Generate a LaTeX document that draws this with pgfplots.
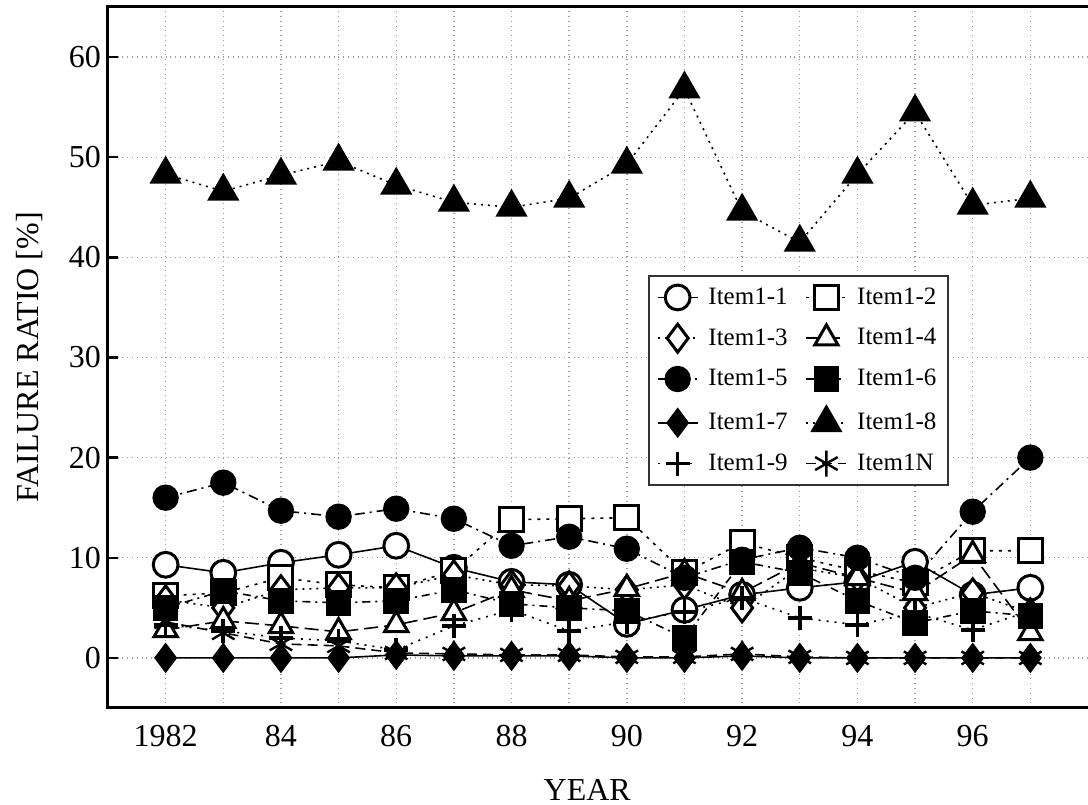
\documentclass[border=0pt]{standalone}
\usepackage{fontspec}
\setmainfont{Liberation Serif}
\usepackage{pgfplots}
\pgfplotsset{compat=1.18}
\begin{document}
\begin{tikzpicture}
\begin{axis}[
  name=ax,
  scale only axis, width=490pt, height=350.5pt,
  xmin=1981, xmax=1998, ymin=-5, ymax=65,
  xtick={1982,1984,...,1996}, xticklabels={1982,84,86,88,90,92,94,96},
  minor xtick={1983,1985,...,1997},
  ytick={0,10,...,60},
  ytick pos=left,
  grid=both,
  major grid style={dotted, gray!80, line width=0.7pt},
  minor grid style={dotted, gray!80, line width=0.7pt},
  axis line style={draw=none},
  xtick style={draw=none}, minor tick length=0pt,
  ytick style={black, line width=1.2pt}, major tick length=5pt, tick align=inside,
  /pgf/number format/assume math mode=true,
  ticklabel style={font=\fontsize{16}{19}\selectfont},
  xticklabel style={yshift=-5pt},
  yticklabel style={/pgf/number format/1000 sep={}},
  xlabel={YEAR}, ylabel={FAILURE RATIO [\%]},
  every axis x label/.style={at={(axis description cs:0.489,-0.117)}, anchor=center, font=\fontsize{16}{19}\selectfont},
  every axis y label/.style={at={(axis description cs:-0.0796,0.5)}, rotate=90, anchor=center, font=\fontsize{16}{19}\selectfont},
  clip=false,
  legend columns=2,
  legend style={at={(0.551,0.618)}, anchor=north west, draw=black!80, line width=0.9pt,
    font=\fontsize{12.5}{15}\selectfont, row sep=6.5pt, column sep=3pt, inner sep=4pt,
    /tikz/every even column/.append style={column sep=7pt}},
  legend cell align=left,
  legend image code/.code={\draw[mark repeat=2,mark phase=2,#1] plot coordinates {(0pt,0pt) (10pt,0pt) (20pt,0pt)};},
  every axis plot/.append style={black, line width=0.8pt},
]
% Item1-1
\addplot[solid, mark=*, mark size=6.2pt, mark options={solid, fill=white, line width=1.5pt}] coordinates {
(1982,9.3)(1983,8.5)(1984,9.5)(1985,10.3)(1986,11.2)(1987,9.0)(1988,7.6)(1989,7.3)(1990,3.4)(1991,4.8)(1992,6.3)(1993,7.0)(1994,7.6)(1995,9.6)(1996,6.3)(1997,7.0)};
\addlegendentry{Item1-1}
% Item1-2
\addplot[dash pattern=on 1.5pt off 3pt, mark=square*, mark size=6pt, mark options={solid, fill=white, line width=1.5pt}] coordinates {
(1982,6.2)(1983,6.5)(1984,8.0)(1985,7.3)(1986,7.0)(1987,8.7)(1988,13.8)(1989,13.9)(1990,14.0)(1991,8.5)(1992,11.5)(1993,10.0)(1994,8.7)(1995,7.5)(1996,10.7)(1997,10.7)};
\addlegendentry{Item1-2}
% Item1-3
\addplot[dash pattern=on 1pt off 2.5pt, mark=diamond*, mark size=7pt, mark options={solid, fill=white, line width=1.5pt}] coordinates {
(1982,5.8)(1983,5.0)(1984,6.8)(1985,7.0)(1986,7.0)(1987,8.3)(1988,7.3)(1989,7.2)(1990,6.8)(1991,7.3)(1992,5.0)(1993,9.0)(1994,8.0)(1995,5.0)(1996,6.5)(1997,4.5)};
\addlegendentry{Item1-3}
% Item1-4
\addplot[dash pattern=on 7pt off 3pt, mark=triangle*, mark size=6.7pt, mark options={solid, fill=white, line width=1.5pt}] coordinates {
(1982,2.8)(1983,3.7)(1984,3.2)(1985,2.6)(1986,3.3)(1987,4.5)(1988,6.8)(1989,5.7)(1990,6.9)(1991,8.5)(1992,6.5)(1993,9.5)(1994,8.0)(1995,6.5)(1996,10.3)(1997,2.5)};
\addlegendentry{Item1-4}
% Item1-5
\addplot[dash pattern=on 5pt off 2.5pt on 1pt off 2.5pt, mark=*, mark size=6.2pt, mark options={solid, fill=black}] coordinates {
(1982,16.0)(1983,17.5)(1984,14.7)(1985,14.1)(1986,14.9)(1987,13.9)(1988,11.2)(1989,12.1)(1990,10.9)(1991,8.0)(1992,9.8)(1993,11.0)(1994,10.0)(1995,8.0)(1996,14.6)(1997,20.0)};
\addlegendentry{Item1-5}
% Item1-6
\addplot[dash pattern=on 4pt off 2.5pt on 1pt off 2.5pt, mark=square*, mark size=6pt, mark options={solid, fill=black}] coordinates {
(1982,5.0)(1983,6.7)(1984,5.7)(1985,5.5)(1986,5.7)(1987,6.8)(1988,5.4)(1989,5.0)(1990,4.7)(1991,2.0)(1992,9.6)(1993,8.5)(1994,5.7)(1995,3.5)(1996,4.7)(1997,4.2)};
\addlegendentry{Item1-6}
% Item1-7
\addplot[solid, mark=diamond*, mark size=7pt, mark options={solid, fill=black}] coordinates {
(1982,0)(1983,0)(1984,0)(1985,0)(1986,0.3)(1987,0.2)(1988,0.2)(1989,0.2)(1990,0)(1991,0)(1992,0.2)(1993,0)(1994,0)(1995,0)(1996,0)(1997,0)};
\addlegendentry{Item1-7}
% Item1-8
\addplot[dash pattern=on 1pt off 2.5pt, mark=triangle*, mark size=8.5pt, mark options={solid, fill=black}] coordinates {
(1982,48.3)(1983,46.6)(1984,48.2)(1985,49.6)(1986,47.2)(1987,45.5)(1988,45.0)(1989,45.9)(1990,49.3)(1991,56.8)(1992,44.6)(1993,41.5)(1994,48.3)(1995,54.5)(1996,45.2)(1997,45.9)};
\addlegendentry{Item1-8}
% Item1-9
\addplot[dash pattern=on 1pt off 3pt, mark=+, mark size=6pt, mark options={solid, line width=1.8pt}] coordinates {
(1982,3.3)(1983,2.7)(1984,2.0)(1985,1.7)(1986,0.8)(1987,3.2)(1988,4.8)(1989,2.7)(1990,3.6)(1991,4.6)(1992,6.0)(1993,4.0)(1994,3.3)(1995,4.5)(1996,2.8)(1997,4.7)};
\addlegendentry{Item1-9}
% Item1N
\addplot[dash pattern=on 5pt off 3pt, mark=asterisk, mark size=6.5pt, mark options={solid, line width=1.2pt}] coordinates {
(1982,3.6)(1983,2.5)(1984,1.4)(1985,1.2)(1986,0.5)(1987,0.4)(1988,0.3)(1989,0.3)(1990,0.1)(1991,0.1)(1992,0.4)(1993,0.1)(1994,0)(1995,0)(1996,0)(1997,0)};
\addlegendentry{Item1N}
\draw[line width=1.5pt, black] (rel axis cs:1,1) -- (rel axis cs:0,1) -- (rel axis cs:0,0) -- (rel axis cs:1,0);
\coordinate (bl) at (rel axis cs:0,0);
\coordinate (tr) at (rel axis cs:1,1);
\end{axis}
\pgfresetboundingbox
\path[use as bounding box] ([xshift=-54pt,yshift=-48.5pt]bl) rectangle ([yshift=3.5pt]tr);
\end{tikzpicture}
\end{document}
